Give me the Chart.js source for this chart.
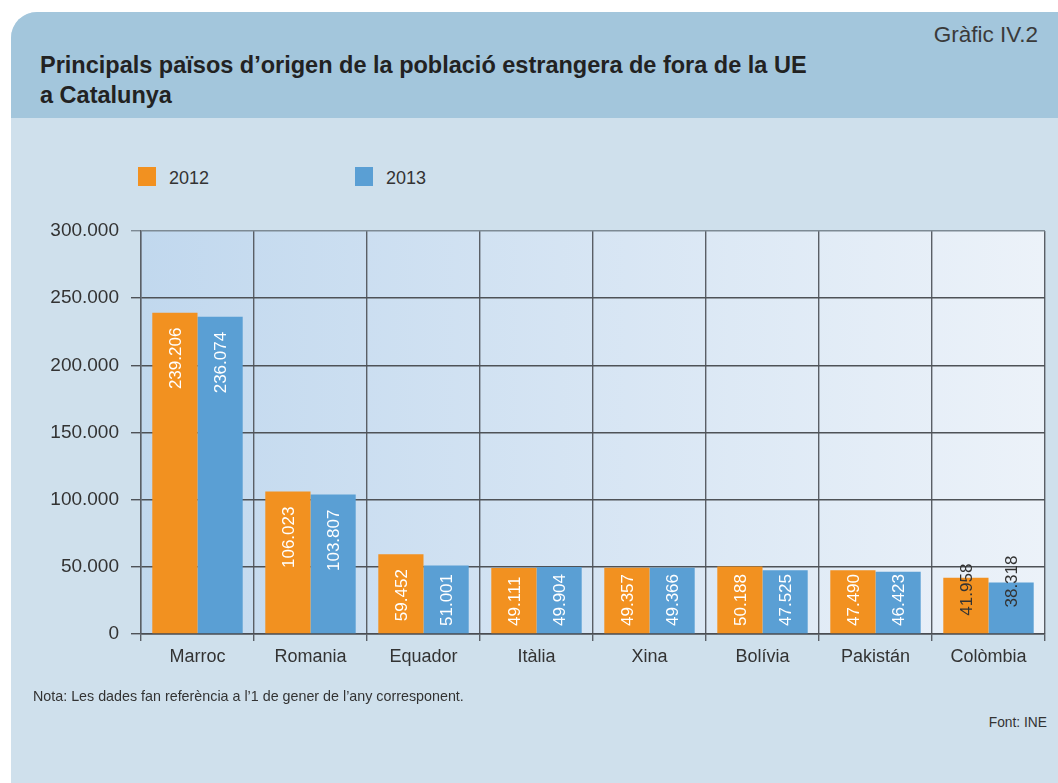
<!DOCTYPE html>
<html>
<head>
<meta charset="utf-8">
<script src="https://cdn.jsdelivr.net/npm/chart.js@4"></script>
<style>
  html, body { margin: 0; padding: 0; background: #fff; width: 1058px; height: 783px; overflow: hidden; }
  body { font-family: "Liberation Sans", Arial, sans-serif; position: relative; }
  #panel { position: absolute; left: 11px; top: 12px; width: 1100px; height: 800px;
           background: #cfe0ec; border-top-left-radius: 26px; overflow: hidden; }
  #header { position: absolute; left: 0; top: 0; width: 100%; height: 106px; background: #a3c6dc; }
  #num { position: absolute; right: 73px; top: 10px; font-size: 22.5px; color: #3a3a3a; }
  #title { position: absolute; left: 29px; top: 38px; font-size: 23.5px; font-weight: bold;
           line-height: 30px; color: #222; white-space: nowrap; }
  #legend { position: absolute; left: 138px; top: 167px; font-size: 18px; color: #333; }
  .item { position: absolute; top: 0; white-space: nowrap; line-height: 19px; }
  .box { display: inline-block; width: 18px; height: 19px; vertical-align: top; margin-right: 13px; }
  .lbl { position: relative; top: 2px; }
  #wrap { position: absolute; left: 0; top: 130px; width: 1058px; height: 560px; }
  #note { position: absolute; left: 33px; top: 688px; font-size: 14.3px; color: #333; }
  #src { position: absolute; right: 11px; top: 715px; font-size: 13.8px; color: #333; }
</style>
</head>
<body>
<div id="panel">
  <div id="header">
    <div id="num">Gràfic IV.2</div>
    <div id="title">Principals països d’origen de la població estrangera de fora de la UE<br>a Catalunya</div>
  </div>
</div>
<div id="legend"></div>
<div id="wrap"><canvas id="chart"></canvas></div>
<div id="note">Nota: Les dades fan referència a l’1 de gener de l’any corresponent.</div>
<div id="src">Font: INE</div>

<script>
// data
const countries = ['Marroc', 'Romania', 'Equador', 'Itàlia', 'Xina', 'Bolívia', 'Pakistán', 'Colòmbia'];
const years     = ['2012', '2013'];
const pop2012   = [239206, 106023, 59452, 49111, 49357, 50188, 47490, 41958];
const pop2013   = [236074, 103807, 51001, 49904, 49366, 47525, 46423, 38318];
const yTicks    = [0, 50000, 100000, 150000, 200000, 250000, 300000];

const colors = ['#f29120', '#5a9fd4'];

// thousands with a dot, like 239.206
function fmt(v) {
    return String(v).replace(/\B(?=(\d{3})+(?!\d))/g, '.');
}

// legend as plain html
const legendEl = document.getElementById('legend');
years.forEach((y, i) => {
    const item = document.createElement('div');
    item.className = 'item';
    item.style.left = (i * 217) + 'px';
    item.innerHTML = `<span class="box" style="background:${colors[i]}"></span><span class="lbl">${y}</span>`;
    legendEl.appendChild(item);
});

//-----------------------------------------------------------------------------
//  gradient behind the plot area
//-----------------------------------------------------------------------------
const plotBackground = {
    id: 'plotBackground',
    beforeDraw(chart) {
        const { ctx, chartArea: a } = chart;
        const g = ctx.createLinearGradient(a.left, 0, a.right, 0);
        g.addColorStop(0, '#c1d8ee');
        g.addColorStop(1, '#ecf2f9');
        ctx.save();
        ctx.fillStyle = g;
        ctx.fillRect(a.left, a.top, a.right - a.left, a.bottom - a.top);
        ctx.restore();
    }
};

//-----------------------------------------------------------------------------
//  vertical value labels inside the bars
//-----------------------------------------------------------------------------
const barLabels = {
    id: 'barLabels',
    afterDatasetsDraw(chart) {
        const ctx = chart.ctx;
        const base = chart.scales.y.getPixelForValue(0);
        ctx.save();
        ctx.font = '17px "Liberation Sans", Arial, sans-serif';
        ctx.textBaseline = 'middle';
        chart.data.datasets.forEach((ds, di) => {
            chart.getDatasetMeta(di).data.forEach((bar, i) => {
                const txt = fmt(ds.data[i]);
                const w = ctx.measureText(txt).width;
                let top, color;
                if (ds.data[i] < 45000) {
                    // short bars: dark text sitting across the top
                    const mid = bar.y + (di === 0 ? 12 : -1);
                    top = mid - w / 2;
                    color = '#333';
                } else {
                    top = Math.min(bar.y + 15, base - 8 - w);
                    color = '#fff';
                }
                ctx.save();
                ctx.translate(bar.x, top);
                ctx.rotate(-Math.PI / 2);
                ctx.fillStyle = color;
                ctx.textAlign = 'right';
                ctx.fillText(txt, 0, 1);
                ctx.restore();
            });
        });
        ctx.restore();
    }
};

const ctx = document.getElementById('chart').getContext('2d');
new Chart(ctx, {
    type: 'bar',
    data: {
        labels: countries,
        datasets: [
            { label: years[0], data: pop2012, backgroundColor: colors[0] },
            { label: years[1], data: pop2013, backgroundColor: colors[1] }
        ]
    },
    options: {
        responsive: true,
        maintainAspectRatio: false,
        animation: false,
        events: [],
        categoryPercentage: 0.8,
        barPercentage: 1.0,
        layout: {
            padding: { top: 101, right: 13, left: 0, bottom: 0 }
        },
        plugins: {
            legend: { display: false },
            tooltip: { enabled: false }
        },
        scales: {
            x: {
                offset: true,
                grid: {
                    offset: true,
                    color: '#5a5f66',
                    lineWidth: 1.4,
                    tickLength: 7
                },
                border: { color: '#4a4d52', width: 1.4 },
                ticks: {
                    color: '#333',
                    padding: 5,
                    font: { family: '"Liberation Sans", Arial, sans-serif', size: 18 }
                },
                afterFit: scale => { scale.height = 56; }
            },
            y: {
                min: 0,
                max: 300000,
                afterBuildTicks: scale => { scale.ticks = yTicks.map(v => ({ value: v })); },
                grid: {
                    color: c => c.tick && c.tick.value === 300000 ? '#7d8a94' : '#4e5257',
                    lineWidth: 1.4,
                    tickLength: 10
                },
                border: { color: '#5a5f66', width: 1.4 },
                ticks: {
                    color: '#333',
                    padding: 12,
                    font: { family: '"Liberation Sans", Arial, sans-serif', size: 19 },
                    callback: v => fmt(v)
                },
                afterFit: scale => { scale.width = 141; }
            }
        }
    },
    plugins: [plotBackground, barLabels]
});
</script>
</body>
</html>
